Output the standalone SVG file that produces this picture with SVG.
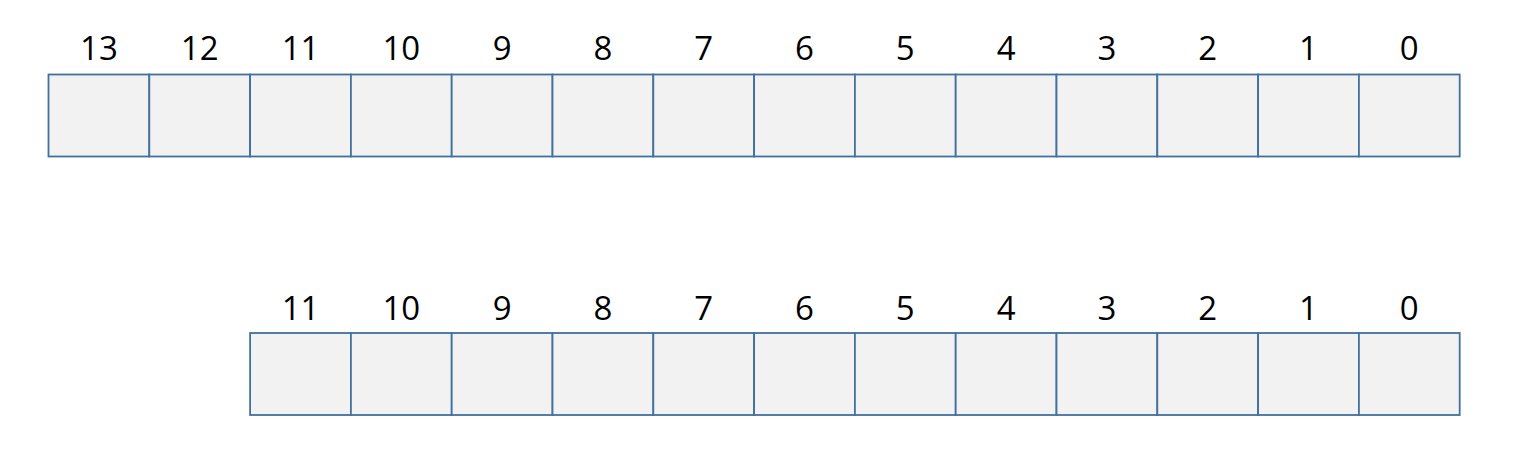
<svg xmlns="http://www.w3.org/2000/svg" width="1520" height="458" viewBox="0 0 1520 458">
<style>
.cell{fill:#f2f2f2;stroke:#41719c;stroke-width:1.8}
.lbl{font-family:"Open Sans","Liberation Sans",Arial,sans-serif;font-size:33px;fill:#000;text-anchor:middle}
</style>
<rect width="1520" height="458" fill="#fff"/>
<g id="top-row">
<g id="t13"><rect class="cell" x="48.5" y="74.5" width="100.8" height="82"/><text class="lbl" x="98.9" y="60">13</text></g>
<g id="t12"><rect class="cell" x="149.3" y="74.5" width="100.8" height="82"/><text class="lbl" x="199.7" y="60">12</text></g>
<g id="t11"><rect class="cell" x="250.1" y="74.5" width="100.8" height="82"/><text class="lbl" x="300.5" y="60">11</text></g>
<g id="t10"><rect class="cell" x="350.9" y="74.5" width="100.8" height="82"/><text class="lbl" x="401.3" y="60">10</text></g>
<g id="t9"><rect class="cell" x="451.7" y="74.5" width="100.8" height="82"/><text class="lbl" x="502.1" y="60">9</text></g>
<g id="t8"><rect class="cell" x="552.5" y="74.5" width="100.8" height="82"/><text class="lbl" x="602.9" y="60">8</text></g>
<g id="t7"><rect class="cell" x="653.3" y="74.5" width="100.8" height="82"/><text class="lbl" x="703.7" y="60">7</text></g>
<g id="t6"><rect class="cell" x="754.1" y="74.5" width="100.8" height="82"/><text class="lbl" x="804.5" y="60">6</text></g>
<g id="t5"><rect class="cell" x="854.9" y="74.5" width="100.8" height="82"/><text class="lbl" x="905.3" y="60">5</text></g>
<g id="t4"><rect class="cell" x="955.7" y="74.5" width="100.8" height="82"/><text class="lbl" x="1006.1" y="60">4</text></g>
<g id="t3"><rect class="cell" x="1056.5" y="74.5" width="100.8" height="82"/><text class="lbl" x="1106.9" y="60">3</text></g>
<g id="t2"><rect class="cell" x="1157.3" y="74.5" width="100.8" height="82"/><text class="lbl" x="1207.7" y="60">2</text></g>
<g id="t1"><rect class="cell" x="1258.1" y="74.5" width="100.8" height="82"/><text class="lbl" x="1308.5" y="60">1</text></g>
<g id="t0"><rect class="cell" x="1358.9" y="74.5" width="100.8" height="82"/><text class="lbl" x="1409.3" y="60">0</text></g>
</g>
<g id="bottom-row">
<g id="b11"><rect class="cell" x="250.1" y="333" width="100.8" height="82"/><text class="lbl" x="300.5" y="320">11</text></g>
<g id="b10"><rect class="cell" x="350.9" y="333" width="100.8" height="82"/><text class="lbl" x="401.3" y="320">10</text></g>
<g id="b9"><rect class="cell" x="451.7" y="333" width="100.8" height="82"/><text class="lbl" x="502.1" y="320">9</text></g>
<g id="b8"><rect class="cell" x="552.5" y="333" width="100.8" height="82"/><text class="lbl" x="602.9" y="320">8</text></g>
<g id="b7"><rect class="cell" x="653.3" y="333" width="100.8" height="82"/><text class="lbl" x="703.7" y="320">7</text></g>
<g id="b6"><rect class="cell" x="754.1" y="333" width="100.8" height="82"/><text class="lbl" x="804.5" y="320">6</text></g>
<g id="b5"><rect class="cell" x="854.9" y="333" width="100.8" height="82"/><text class="lbl" x="905.3" y="320">5</text></g>
<g id="b4"><rect class="cell" x="955.7" y="333" width="100.8" height="82"/><text class="lbl" x="1006.1" y="320">4</text></g>
<g id="b3"><rect class="cell" x="1056.5" y="333" width="100.8" height="82"/><text class="lbl" x="1106.9" y="320">3</text></g>
<g id="b2"><rect class="cell" x="1157.3" y="333" width="100.8" height="82"/><text class="lbl" x="1207.7" y="320">2</text></g>
<g id="b1"><rect class="cell" x="1258.1" y="333" width="100.8" height="82"/><text class="lbl" x="1308.5" y="320">1</text></g>
<g id="b0"><rect class="cell" x="1358.9" y="333" width="100.8" height="82"/><text class="lbl" x="1409.3" y="320">0</text></g>
</g>
<g id="connectors"/>
</svg>
